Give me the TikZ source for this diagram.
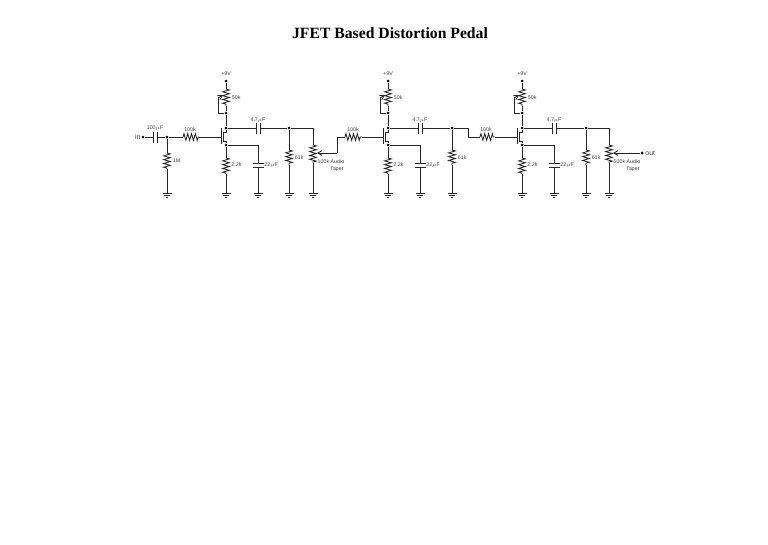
\documentclass[tikz,border=0pt]{standalone}
\usepackage{fontspec}
\setmainfont{Liberation Sans}
\newfontfamily\titlefont{Liberation Serif}
\usetikzlibrary{arrows,decorations.pathmorphing}

\begin{document}
\begin{tikzpicture}[x=1pt,y=-1pt,>=angle 60,line width=0.85pt,draw=black!85,text=black!75,
                    font=\fontsize{5.3}{6}\selectfont]
  \tikzstyle{dot}=[circle,fill=black,draw=none,inner sep=0pt,minimum size=3pt]
  \tikzstyle{res}=[decorate,decoration={zigzag,segment length=3.8pt,amplitude=3.3pt}]
  \tikzstyle{plate}=[line width=1pt]
  \tikzstyle{lbl}=[inner sep=0pt,anchor=west]
  \tikzset{gnd/.pic={
    \draw (0,0) -- (0,1);
    \draw (-4.5,1) -- (4.5,1);
    \draw (-3,3) -- (3,3);
    \draw (-1.2,5) -- (1.2,5);
  }}

  \useasboundingbox (0,0) rectangle (768,544);
  \node[font=\titlefont\bfseries\fontsize{15.7}{17}\selectfont,text=black] (title) at (390,33) {JFET Based Distortion Pedal};

  % one amplifier stage each
  \foreach \n/\d in {A/0,B/162,C/296}{
    \node[dot] (V\n) at (226+\d,81) {};
    \node[inner sep=0pt] (VL\n) at (226+\d,74) {+9V};
    \node[dot] (M\n) at (226+\d,113) {};
    \node[dot] (D\n) at (226+\d,128) {};
    \node[dot] (S\n) at (226+\d,145) {};
    \coordinate (RT\n) at (226+\d,89);
    \coordinate (RB\n) at (226+\d,106);
    \coordinate (WT\n) at (218+\d,98);
    \coordinate (WC\n) at (218+\d,113);
    \node[lbl] (PL\n) at (231.5+\d,98) {50k};
    \coordinate (GB\n) at (221+\d,128);
    \coordinate (GE\n) at (221+\d,144);
    \coordinate (G\n) at (221+\d,137);
    \coordinate (SR\n) at (226+\d,158);
    \coordinate (SE\n) at (226+\d,174);
    \coordinate (SG\n) at (226+\d,192);
    \node[lbl] (SL\n) at (231+\d,165) {2.2k};
    \coordinate (CS\n) at (258+\d,145);
    \coordinate (CT\n) at (258+\d,163);
    \coordinate (CB\n) at (258+\d,167);
    \coordinate (CG\n) at (258+\d,192);
    \node[lbl] (CL\n) at (264+\d,165) {22$\mu$F};
    \coordinate (OL\n) at (256.8+\d,128);
    \coordinate (OR\n) at (260.2+\d,128);
    \node[inner sep=0pt] (OT\n) at (258+\d,120) {4.7$\mu$F};

    \draw (V\n) -- (RT\n);
    \draw[res] (RT\n) -- (RB\n);
    \draw (RB\n) -- (M\n) -- (D\n);
    \draw (M\n) -- (WC\n) -- (WT\n);
    \draw[->] (WT\n) -- +(5,-3);
    \draw[plate] (GB\n) -- (GE\n);
    \draw (D\n) -- +(0,4) -- (223.5+\d,132);
    \draw (223.5+\d,132) -- (223.5+\d,141) -- (226+\d,141) -- (S\n);
    \draw (S\n) -- (SR\n);
    \draw[res] (SR\n) -- (SE\n);
    \draw (SE\n) -- (SG\n);
    \pic at (SG\n) {gnd};
    \draw (S\n) -- (CS\n) -- (CT\n);
    \draw[plate] (252.5+\d,163) -- (263.5+\d,163);
    \draw[plate] (252.5+\d,167) -- (263.5+\d,167);
    \draw (CB\n) -- (CG\n);
    \pic at (CG\n) {gnd};
    \draw (D\n) -- (OL\n);
    \draw[plate] (OL\n) ++(0,-5.5) -- ++(0,11);
    \draw[plate] (OR\n) ++(0,-5.5) -- ++(0,11);
  }

  % input side
  \node[dot] (IN) at (143,137) {};
  \node[font=\fontsize{7}{8}\selectfont,inner sep=0pt,anchor=east] (INL) at (141,137) {in};
  \node[inner sep=0pt] (INC) at (155,128.5) {100$\mu$F};
  \node[dot] (J1) at (167,137) {};
  \coordinate (C1L) at (153.5,137);
  \coordinate (C1R) at (157,137);
  \draw (IN) -- (C1L);
  \draw[plate] (C1L) ++(0,-5.5) -- ++(0,11);
  \draw[plate] (C1R) ++(0,-5.5) -- ++(0,11);
  \draw (C1R) -- (J1);
  \coordinate (R1T) at (167,153);
  \coordinate (R1B) at (167,169);
  \coordinate (R1G) at (167,192);
  \node[lbl] (R1L) at (172.5,161) {1M};
  \draw (J1) -- (R1T);
  \draw[res] (R1T) -- (R1B);
  \draw (R1B) -- (R1G);
  \pic at (R1G) {gnd};
  \coordinate (R2L) at (183,137);
  \coordinate (R2R) at (199,137);
  \node[inner sep=0pt] (R2T) at (190,130) {100k};
  \draw (J1) -- (R2L);
  \draw[res] (R2L) -- (R2R);
  \draw (R2R) -- (GA);

  % load of first stage
  \node[dot] (N1) at (289,128) {};
  \coordinate (R3T) at (289,150);
  \coordinate (R3B) at (289,165);
  \coordinate (R3G) at (289,192);
  \node[lbl] (R3L) at (294.5,158) {61k};
  \coordinate (P1R) at (313,128);
  \coordinate (P1T) at (313,145);
  \coordinate (P1B) at (313,163);
  \coordinate (P1G) at (313,192);
  \coordinate (W1) at (337,153);
  \coordinate (W1U) at (337,137);
  \node[inner sep=0pt] (P1L) at (331,162) {100k Audio};
  \node[inner sep=0pt] (P1M) at (337,169) {Taper};
  \draw (ORA) -- (N1) -- (P1R) -- (P1T);
  \draw (N1) -- (R3T);
  \draw[res] (R3T) -- (R3B);
  \draw (R3B) -- (R3G);
  \pic at (R3G) {gnd};
  \draw[res] (P1T) -- (P1B);
  \draw (P1B) -- (P1G);
  \pic at (P1G) {gnd};
  \draw[->] (W1) -- (317,153);
  \draw (W1) -- (W1U);
  \coordinate (R4L) at (345,137);
  \coordinate (R4R) at (362,137);
  \node[inner sep=0pt] (R4T) at (353,130) {100k};
  \draw (W1U) -- (R4L);
  \draw[res] (R4L) -- (R4R);
  \draw (R4R) -- (GB);

  % load of second stage
  \node[dot] (N2) at (452,128) {};
  \coordinate (R5T) at (452,150);
  \coordinate (R5B) at (452,165);
  \coordinate (R5G) at (452,192);
  \node[lbl] (R5L) at (457.5,158) {61k};
  \coordinate (K2) at (468,128);
  \coordinate (K2D) at (468,137);
  \coordinate (R6L) at (480,137);
  \coordinate (R6R) at (495,137);
  \node[inner sep=0pt] (R6T) at (486,130) {100k};
  \draw (ORB) -- (N2) -- (K2) -- (K2D) -- (R6L);
  \draw (N2) -- (R5T);
  \draw[res] (R5T) -- (R5B);
  \draw (R5B) -- (R5G);
  \pic at (R5G) {gnd};
  \draw[res] (R6L) -- (R6R);
  \draw (R6R) -- (GC);

  % output side
  \node[dot] (N3) at (586,128) {};
  \coordinate (R7T) at (586,150);
  \coordinate (R7B) at (586,165);
  \coordinate (R7G) at (586,192);
  \node[lbl] (R7L) at (591.5,158) {61k};
  \coordinate (P2R) at (609,128);
  \coordinate (P2T) at (609,145);
  \coordinate (P2B) at (609,163);
  \coordinate (P2G) at (609,192);
  \node[dot] (OUT) at (642,153) {};
  \node[font=\fontsize{7}{8}\selectfont,inner sep=0pt,anchor=west] (OUTL) at (645,153) {out};
  \node[inner sep=0pt] (P2L) at (627,162) {500k Audio};
  \node[inner sep=0pt] (P2M) at (633,169) {Taper};
  \draw (ORC) -- (N3) -- (P2R) -- (P2T);
  \draw (N3) -- (R7T);
  \draw[res] (R7T) -- (R7B);
  \draw (R7B) -- (R7G);
  \pic at (R7G) {gnd};
  \draw[res] (P2T) -- (P2B);
  \draw (P2B) -- (P2G);
  \pic at (P2G) {gnd};
  \draw[->] (OUT) -- (613,153);
\end{tikzpicture}
\end{document}
